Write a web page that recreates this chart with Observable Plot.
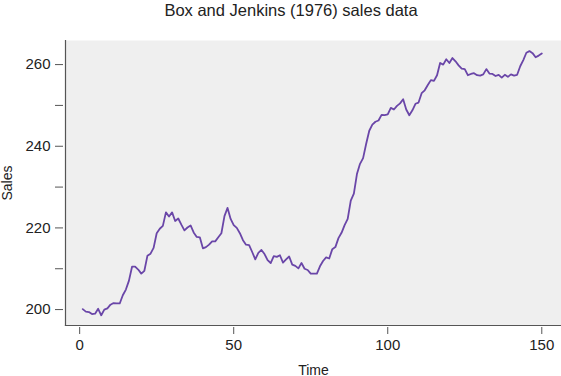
<!DOCTYPE html>
<html><head><meta charset="utf-8">
<script src="https://cdn.jsdelivr.net/npm/d3@7"></script>
<script src="https://cdn.jsdelivr.net/npm/@observablehq/plot@0.6"></script>
<style>
body{margin:0;background:#fff;font-family:"Liberation Sans",Arial,sans-serif;}
#wrap{position:relative;width:561px;height:376px;}
#title{position:absolute;left:0;top:0;width:582px;text-align:center;font-size:16.5px;color:#222;line-height:20px;padding-top:0px;z-index:2;}
</style></head>
<body><div id="wrap"><div id="title">Box and Jenkins (1976) sales data</div></div>
<script>
const sales = [200.1,199.5,199.4,198.9,199.0,200.2,198.6,200.0,200.3,201.2,
201.6,201.5,201.5,203.5,204.9,207.1,210.5,210.5,209.8,208.8,
209.5,213.2,213.7,215.1,218.7,219.8,220.5,223.8,222.8,223.8,
221.7,222.3,220.8,219.4,220.1,220.6,218.9,217.8,217.7,215.0,
215.3,215.9,216.7,216.7,217.7,218.7,222.9,224.9,222.2,220.7,
220.0,218.7,217.0,215.9,215.8,214.1,212.3,213.9,214.6,213.6,
212.1,211.4,213.1,212.9,213.3,211.5,212.3,213.0,211.0,210.7,
210.1,211.4,210.0,209.7,208.8,208.8,208.8,210.6,211.9,212.8,
212.5,214.8,215.3,217.5,218.8,220.7,222.2,226.7,228.4,233.2,
235.7,237.1,240.6,243.8,245.3,246.0,246.3,247.7,247.6,247.8,
249.4,249.0,249.9,250.5,251.5,249.0,247.6,248.8,250.4,250.7,
253.0,253.7,255.0,256.2,256.0,257.4,260.4,260.0,261.3,260.4,
261.6,260.8,259.8,259.0,258.9,257.4,257.7,257.9,257.4,257.3,
257.6,258.9,257.8,257.7,257.2,257.5,256.8,257.5,257.0,257.6,
257.3,257.5,259.6,261.1,262.9,263.3,262.8,261.8,262.2,262.7];
const time = sales.map((_, i) => i + 1);
const xTicks = [0, 50, 100, 150];
const yTicks = [200, 210, 220, 230, 240, 250, 260];
const yLabelTicks = [200, 220, 240, 260];
const data = time.map((t, i) => ({Time: t, Sales: sales[i]}));

const chart = Plot.plot({
  width: 561, height: 376,
  marginLeft: 65, marginRight: 0, marginTop: 40, marginBottom: 51,
  style: {fontFamily: '"Liberation Sans", Arial, sans-serif', fontSize: "15px", color: "#222", background: "transparent"},
  x: {domain: [-4.6, 156.4]},
  y: {domain: [196.1, 265.9]},
  marks: [
    Plot.frame({fill: "#efefef", stroke: null}),
    Plot.axisX({ticks: xTicks, tickSize: 7, dy: 2, tickPadding: 5, stroke: "#555", tickFormat: d => String(d), label: null}),
    Plot.axisX({ticks: [], label: "Time", labelAnchor: "center", labelArrow: "none", labelOffset: 49, fontSize: 14}),
    Plot.axisY({ticks: yTicks, tickSize: 8, dx: -2, tickPadding: 5, stroke: "#555",
      tickFormat: d => yLabelTicks.includes(d) ? String(d) : "", label: null}),
    Plot.axisY({ticks: [], label: "Sales", labelAnchor: "center", labelArrow: "none", labelOffset: 63, fontSize: 14}),
    Plot.frame({anchor: "left", stroke: "#555", strokeWidth: 1.2}),
    Plot.frame({anchor: "bottom", stroke: "#555", strokeWidth: 1.2}),
    Plot.lineY(data, {x: "Time", y: "Sales", stroke: "#6a46a8", strokeWidth: 1.8})
  ]
});
document.getElementById("wrap").appendChild(chart);
chart.style.position = "absolute"; chart.style.left = "0"; chart.style.top = "0";
</script></body></html>
